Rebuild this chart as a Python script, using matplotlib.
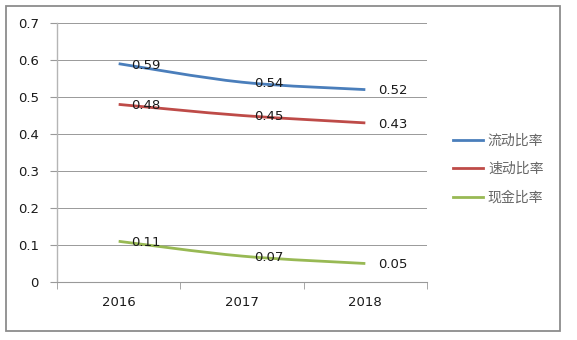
import matplotlib
matplotlib.use("Agg")
import matplotlib.pyplot as plt
from matplotlib.path import Path
from matplotlib.patches import PathPatch, Rectangle
from matplotlib.lines import Line2D
import numpy as np

plt.rcParams['font.family'] = ['Noto Sans CJK SC', 'DejaVu Sans']

years = ["2016", "2017", "2018"]
current_ratio = [0.59, 0.54, 0.52]
quick_ratio = [0.48, 0.45, 0.43]
cash_ratio = [0.11, 0.07, 0.05]
series_names = ["流动比率", "速动比率", "现金比率"]
colors = ["#4A7EBB", "#BE4B48", "#98B954"]
y_ticks = [0, 0.1, 0.2, 0.3, 0.4, 0.5, 0.6, 0.7]

W, H = 577, 340
fig = plt.figure(figsize=(W / 100, H / 100), dpi=100)
ax = fig.add_axes([57 / W, 1 - 282 / H, (427 - 57) / W, (282 - 23) / H])

x = np.arange(len(years))


def smooth_path(xs, ys, t=1 / 6):
    verts = [(xs[0], ys[0])]
    codes = [Path.MOVETO]
    n = len(xs)
    for i in range(n - 1):
        p0 = (xs[i - 1], ys[i - 1]) if i > 0 else (xs[i], ys[i])
        p1 = (xs[i], ys[i])
        p2 = (xs[i + 1], ys[i + 1])
        p3 = (xs[i + 2], ys[i + 2]) if i + 2 < n else (xs[i + 1], ys[i + 1])
        c1 = (p1[0] + (p2[0] - p0[0]) * t, p1[1] + (p2[1] - p0[1]) * t)
        c2 = (p2[0] - (p3[0] - p1[0]) * t, p2[1] - (p3[1] - p1[1]) * t)
        verts += [c1, c2, p2]
        codes += [Path.CURVE4] * 3
    return Path(verts, codes)


for vals, c in zip([current_ratio, quick_ratio, cash_ratio], colors):
    patch = PathPatch(smooth_path(list(x), vals), facecolor="none", edgecolor=c,
                      lw=2.0, capstyle="butt", zorder=3)
    ax.add_patch(patch)
    for xi, v in zip(x, vals):
        ax.annotate(f"{v:.2f}", (xi, v), xytext=(9, -1), textcoords="offset points",
                    ha="left", va="center", fontsize=9.5, color="#1a1a1a",
                    family="DejaVu Sans", zorder=4)

ax.set_xlim(-0.5, len(years) - 0.5)
ax.set_ylim(0, 0.7)
ax.set_yticks(y_ticks)
ax.set_yticklabels(["0" if v == 0 else f"{v:.1f}" for v in y_ticks])
ax.set_xticks(x)
ax.set_xticklabels(years)
ax.set_xticks(np.arange(len(years) + 1) - 0.5, minor=True)
ax.grid(axis="y", color="#999999", lw=0.7)
ax.set_axisbelow(True)
for s in ["top", "right"]:
    ax.spines[s].set_visible(False)
ax.spines["left"].set_color("#b5b5b5")
ax.spines["left"].set_linewidth(1.0)
ax.spines["bottom"].set_color("#999999")
ax.spines["bottom"].set_linewidth(0.8)
ax.tick_params(axis="x", which="major", length=0, pad=10, labelsize=9.5, labelcolor="#1a1a1a")
ax.tick_params(axis="x", which="minor", length=5, color="#999999", direction="out")
ax.tick_params(axis="y", length=5, color="#999999", pad=8, labelsize=9.5, labelcolor="#1a1a1a")
for lbl in ax.get_xticklabels() + ax.get_yticklabels():
    lbl.set_family("DejaVu Sans")

handles = [Line2D([0], [0], color=c, lw=2.0) for c in colors]
leg = fig.legend(handles, series_names, loc="center left",
                 bbox_to_anchor=(440 / W, 1 - 169 / H), frameon=False,
                 fontsize=10, handlelength=2.2, handletextpad=0.35,
                 labelspacing=1.05, labelcolor="#666666")

fig.patches.append(Rectangle((6 / W, 1 - 331 / H), (560 - 6) / W, (331 - 6) / H,
                             transform=fig.transFigure, fill=False,
                             edgecolor="#8c8c8c", lw=1.3))

fig.savefig("out.png", dpi=100)
